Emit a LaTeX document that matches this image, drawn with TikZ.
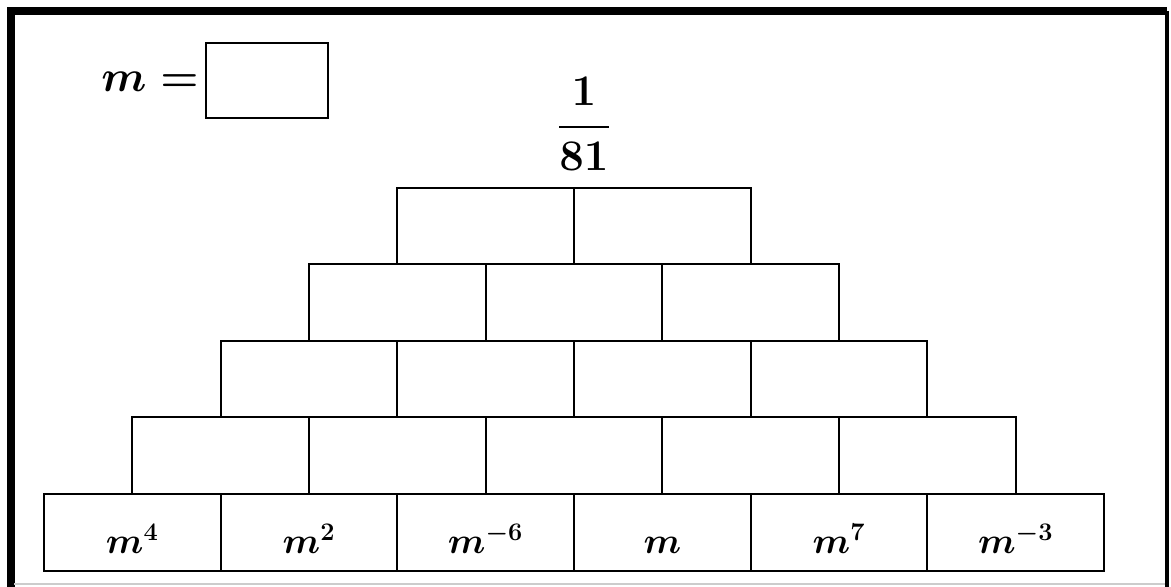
\documentclass[tikz,border=0pt]{standalone}
\usepackage{amsmath}
\usepackage{amssymb}
\usepackage{xcolor}
\usepackage{tikz}
\tikzset{brick/.style={draw, line width=1.1pt, minimum width=3.534cm, minimum height=1.532cm, inner sep=0pt},
         exponent/.style={anchor=base, inner sep=0pt, font=\fontsize{22}{26}\selectfont\boldmath}}

\begin{document}
\begin{tikzpicture}[x=0.02cm, y=-0.02cm]
            \useasboundingbox (0,0) rectangle (1171,587);
            \draw [line width=4.8pt] (11,587) -- (11,11) -- (1167,11);
            \draw [line width=2pt] (1167,11) -- (1167,587);
            \draw [gray!40, line width=0.6pt] (14,584) -- (1165,584);
            \node [anchor=base east, inner sep=0pt, font=\fontsize{30}{34}\selectfont\boldmath] (meq) at (199,92) {$m=$};
            \node [draw, line width=1.1pt, minimum width=2.44cm, minimum height=1.5cm, inner sep=0pt] (answer) at (267,80.5) {};
            \node [font=\fontsize{25}{30}\selectfont\boldmath] (apex) at (584,124) {$\genfrac{}{}{1.4pt}{0}{1}{81}$};
            \foreach \r in {0,...,4}{
                \pgfmathtruncatemacro\last{5-\r}
                \foreach \i in {0,...,\last}
                    \node [brick] (b\r\i) at ({44+88.33*\r+176.67*(\i+0.5)},{532.3-76.6*\r}) {};
            }
            \foreach \i/\lab in {0/{m^{4}},1/{m^{2}},2/{m^{-6}},3/{m},4/{m^{7}},5/{m^{-3}}}
                \node [exponent] (lab\i) at ([yshift=-0.42cm]b0\i.center) {$\lab$};
        \end{tikzpicture}
\end{document}
